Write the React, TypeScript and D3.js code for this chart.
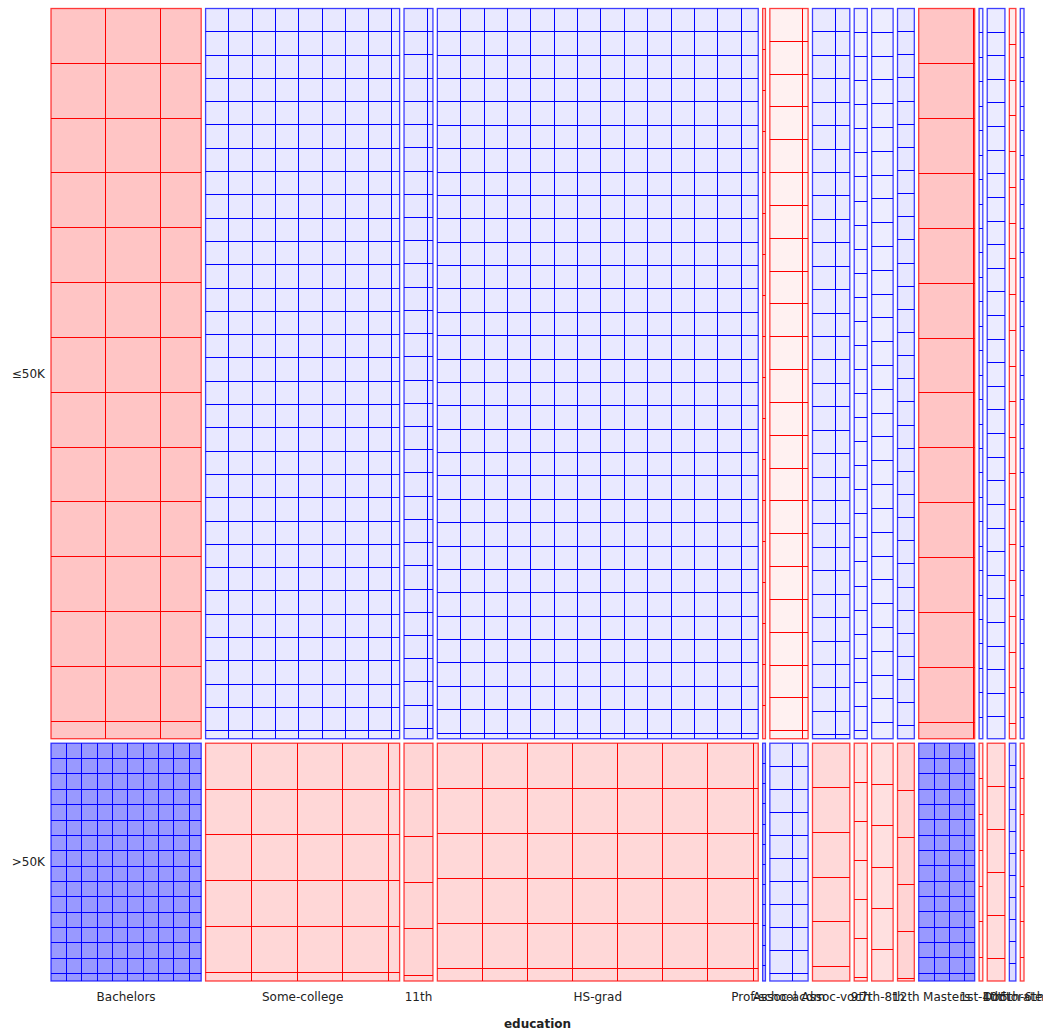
import React from "react";
import * as d3 from "d3";

// ---- data (adult sample: education x income) ----
const education = [
  "Bachelors", "Some-college", "11th", "HS-grad", "Prof-school", "Assoc-acdm",
  "Assoc-voc", "9th", "7th-8th", "12th", "Masters", "1st-4th", "10th",
  "Doctorate", "5th-6th",
];
const incomeClasses = ["≤50K", ">50K"];
const countLE50K = [90, 171, 29, 277, 0, 27, 36, 13, 21, 18, 26, 4, 18, 3, 4];
const countGT50K = [71, 37, 2, 67, 3, 14, 4, 1, 2, 0, 34, 0, 1, 4, 0];

const W = 1043;
const H = 1031;
const margin = { left: 51, right: 19, top: 8.5, bottom: 50 };
const gapX = 4.4;
const gapY = 4.5;

const snap = (v: number) => Math.floor(v) + 0.5;

export default function App() {
  const counts = [countLE50K, countGT50K];
  const colTotals = education.map((_, i) => countLE50K[i] + countGT50K[i]);
  const rowTotals = counts.map((r) => d3.sum(r));
  const N = d3.sum(colTotals);

  const plotW = W - margin.left - margin.right;
  const plotH = H - margin.top - margin.bottom;
  const contentW = plotW - gapX * (education.length - 1);
  const contentH = plotH - gapY * (incomeClasses.length - 1);

  const xScale = d3.scaleLinear().domain([0, N]).range([0, contentW]);
  const yScale = d3.scaleLinear().domain([0, N]).range([0, contentH]);

  const cumCols = d3.cumsum(colTotals);
  const cumRows = d3.cumsum(rowTotals);

  const colX0 = education.map(
    (_, i) => margin.left + xScale(i === 0 ? 0 : cumCols[i - 1]) + i * gapX
  );
  const colW = colTotals.map((c) => xScale(c));
  const rowY0 = incomeClasses.map(
    (_, j) => margin.top + yScale(j === 0 ? 0 : cumRows[j - 1]) + j * gapY
  );
  const rowH = rowTotals.map((r) => yScale(r));

  // Pearson residual -> line spacing, residual -> fill alpha
  const baseDist = 25.6;
  const spacing = (p: number) =>
    p > 0
      ? baseDist * (1 - 0.08 * Math.min(p, 10))
      : baseDist * (1 + 0.4 * Math.min(-p, 10));
  const alphaScale = d3.scaleLinear().domain([0, 12.5]).range([0, 1]).clamp(true);

  const cells: any[] = [];
  incomeClasses.forEach((_, j) => {
    education.forEach((_, i) => {
      const o = counts[j][i];
      const e = (colTotals[i] * rowTotals[j]) / N;
      const p = (o - e) / Math.sqrt(e);
      const x = colX0[i];
      const y = rowY0[j];
      const w = colW[i];
      const h = rowH[j];
      const color = p > 0 ? "#0000ff" : "#ff0000";
      const dist = spacing(p);
      const vlines: number[] = [];
      for (let k = 1; k * dist < w - 0.3; k++) vlines.push(snap(x + k * dist));
      const hlines: number[] = [];
      for (let k = 1; k * dist < h - 0.3; k++) hlines.push(snap(y + k * dist));
      cells.push({ i, j, x, y, w, h, color, alpha: alphaScale(Math.abs(p)), vlines, hlines });
    });
  });

  const font = "'DejaVu Sans', Verdana, sans-serif";

  return (
    <svg
      width={W}
      height={H}
      style={{ position: "absolute", left: 0, top: 0, display: "block", background: "#fff" }}
    >
      {cells.map((c) => (
        <g key={`${c.i}-${c.j}`}>
          <rect x={c.x} y={c.y} width={c.w} height={c.h} fill={c.color} fillOpacity={c.alpha} stroke="none" />
          {c.vlines.map((lx: number, k: number) => (
            <line key={`v${k}`} x1={lx} x2={lx} y1={c.y} y2={c.y + c.h} stroke={c.color} strokeWidth={1} />
          ))}
          {c.hlines.map((ly: number, k: number) => (
            <line key={`h${k}`} x1={c.x} x2={c.x + c.w} y1={ly} y2={ly} stroke={c.color} strokeWidth={1} />
          ))}
          <rect x={c.x} y={c.y} width={c.w} height={c.h} fill="none" stroke={c.color} strokeOpacity={0.75} strokeWidth={1.3} />
        </g>
      ))}
      {incomeClasses.map((lab, j) => (
        <text
          key={lab}
          x={45}
          y={rowY0[j] + rowH[j] / 2}
          textAnchor="end"
          dominantBaseline="central"
          fontFamily={font}
          fontSize={12}
          fill="#222"
        >
          {lab}
        </text>
      ))}
      {education.map((lab, i) => (
        <text
          key={lab}
          x={colX0[i] + colW[i] / 2}
          y={1001}
          textAnchor="middle"
          fontFamily={font}
          fontSize={12}
          fill="#222"
        >
          {lab}
        </text>
      ))}
      <text
        x={margin.left + plotW / 2}
        y={1028}
        textAnchor="middle"
        fontFamily={font}
        fontSize={12}
        fontWeight="bold"
        fill="#222"
      >
        education
      </text>
    </svg>
  );
}
